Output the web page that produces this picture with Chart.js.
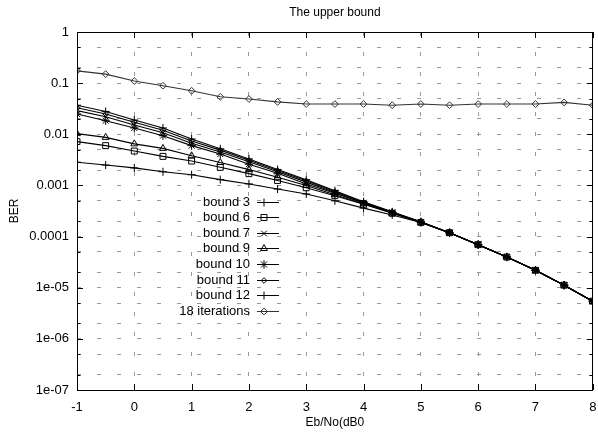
<!DOCTYPE html>
<html>
<head>
<meta charset="utf-8">
<script src="https://cdn.jsdelivr.net/npm/chart.js@4/dist/chart.umd.min.js"></script>
<style>
  html, body { margin: 0; padding: 0; background: #fff; }
  #wrap { width: 598px; height: 434px; }
</style>
</head>
<body>
<div id="wrap"><canvas id="c" width="598" height="434"></canvas></div>
<script>
// ---- data ----
const ebno = [-1, -0.5, 0, 0.5, 1, 1.5, 2, 2.5, 3, 3.5, 4, 4.5, 5, 5.5, 6, 6.5, 7, 7.5, 8];

const bound3  = [2.84e-3, 2.5e-3, 2.2e-3, 1.85e-3, 1.62e-3, 1.3e-3, 1.07e-3, 8.5e-4, 6.8e-4, 5.0e-4, 3.6e-4, 2.65e-4, 1.88e-4, 1.18e-4, 6.9e-5, 3.98e-5, 2.19e-5, 1.12e-5, 5.4e-6];
const bound6  = [7.2e-3, 6.0e-3, 4.7e-3, 3.7e-3, 3.0e-3, 2.26e-3, 1.7e-3, 1.25e-3, 9.0e-4, 6.3e-4, 4.3e-4, 2.85e-4, 1.89e-4, 1.19e-4, 6.95e-5, 3.98e-5, 2.19e-5, 1.12e-5, 5.46e-6];
const bound7  = [2.9e-2, 2.2e-2, 1.52e-2, 1.07e-2, 6.7e-3, 4.5e-3, 2.9e-3, 1.85e-3, 1.16e-3, 7.3e-4, 4.6e-4, 2.98e-4, 1.92e-4, 1.19e-4, 6.95e-5, 3.98e-5, 2.19e-5, 1.12e-5, 5.46e-6];
const bound9  = [1.03e-2, 8.7e-3, 6.5e-3, 5.3e-3, 3.8e-3, 2.8e-3, 2.04e-3, 1.44e-3, 1.0e-3, 6.6e-4, 4.4e-4, 2.9e-4, 1.9e-4, 1.19e-4, 6.95e-5, 3.98e-5, 2.19e-5, 1.12e-5, 5.46e-6];
const bound10 = [2.5e-2, 1.84e-2, 1.33e-2, 9.4e-3, 6.0e-3, 4.1e-3, 2.6e-3, 1.73e-3, 1.07e-3, 7.0e-4, 4.55e-4, 2.95e-4, 1.92e-4, 1.19e-4, 6.95e-5, 3.98e-5, 2.19e-5, 1.12e-5, 5.46e-6];
const bound11 = [3.3e-2, 2.5e-2, 1.72e-2, 1.2e-2, 7.4e-3, 4.9e-3, 3.1e-3, 1.95e-3, 1.23e-3, 7.6e-4, 4.7e-4, 3.0e-4, 1.93e-4, 1.19e-4, 6.95e-5, 3.98e-5, 2.19e-5, 1.12e-5, 5.46e-6];
const bound12 = [3.7e-2, 2.8e-2, 1.9e-2, 1.33e-2, 8.1e-3, 5.2e-3, 3.3e-3, 2.04e-3, 1.29e-3, 7.9e-4, 4.8e-4, 3.05e-4, 1.95e-4, 1.19e-4, 6.95e-5, 3.98e-5, 2.19e-5, 1.12e-5, 5.46e-6];
const iter18  = [0.174, 0.15, 0.11, 0.089, 0.071, 0.054, 0.049, 0.043, 0.039, 0.039, 0.039, 0.037, 0.039, 0.037, 0.039, 0.039, 0.039, 0.042, 0.037];

const seriesNames = ['bound 3', 'bound 6', 'bound 7', 'bound 9', 'bound 10', 'bound 11', 'bound 12', '18 iterations'];
const seriesValues = [bound3, bound6, bound7, bound9, bound10, bound11, bound12, iter18];

const xTickValues = [-1, 0, 1, 2, 3, 4, 5, 6, 7, 8];
const yDecades = [1e-7, 1e-6, 1e-5, 1e-4, 1e-3, 1e-2, 1e-1, 1];
const yTickLabels = ['1e-07', '1e-06', '1e-05', '0.0001', '0.001', '0.01', '0.1', '1'];
const yMinorFactors = [2, 5];

const titleText = 'The upper bound';
const xTitle = 'Eb/No(dB0';
const yTitle = 'BER';

// ---- styles ----
const markerStyles = [
  { style: 'cross', r: 4 },
  { style: 'rect', r: 4.2 },
  { style: 'crossRot', r: 4 },
  { style: 'triangle', r: 4 },
  { style: 'star', r: 4.2 },
  { style: 'rectRot', r: 2.8 },
  { style: 'cross', r: 4 },
  { style: 'rectRot', r: 3.4 }
];
const FONT = '"Liberation Sans", Arial, Helvetica, sans-serif';

const datasets = seriesValues.map((vals, i) => ({
  label: seriesNames[i],
  data: vals.map((v, j) => ({ x: ebno[j], y: v })),
  borderColor: i === 7 ? '#333' : '#000',
  borderWidth: 1.1,
  pointStyle: markerStyles[i].style,
  pointRadius: markerStyles[i].r,
  pointBorderColor: i === 7 ? '#333' : '#000',
  pointBackgroundColor: 'rgba(255,255,255,0)',
  pointBorderWidth: 1,
  tension: 0,
  fill: false
}));

// build y tick list (decades + minor)
const yTickList = [];
yDecades.forEach((d, i) => {
  yTickList.push({ value: d, major: true, label: yTickLabels[i] });
  if (d < 1) yMinorFactors.forEach(f => yTickList.push({ value: d * f, major: false, label: '' }));
});
yTickList.sort((a, b) => a.value - b.value);

const frame = {
  id: 'frame',
  afterDatasetsDraw(chart) {
    const { ctx, chartArea: a, scales } = chart;
    ctx.save();
    ctx.strokeStyle = '#000';
    ctx.lineWidth = 1;
    ctx.beginPath();
    // inward ticks on y
    yTickList.forEach(t => {
      const y = Math.round(scales.y.getPixelForValue(t.value)) + 0.5;
      const len = t.major ? 6 : 3.5;
      ctx.moveTo(a.left, y); ctx.lineTo(a.left + len, y);
      ctx.moveTo(a.right, y); ctx.lineTo(a.right - len, y);
    });
    xTickValues.forEach(v => {
      const x = Math.round(scales.x.getPixelForValue(v)) + 0.5;
      ctx.moveTo(x, a.bottom); ctx.lineTo(x, a.bottom - 6);
      ctx.moveTo(x, a.top); ctx.lineTo(x, a.top + 6);
    });
    ctx.stroke();
    ctx.strokeRect(Math.round(a.left) + 0.5, Math.round(a.top) + 0.5,
                   Math.round(a.right - a.left) - 1, Math.round(a.bottom - a.top));
    // legend (gnuplot-style key)
    ctx.font = '13px ' + FONT;
    ctx.textAlign = 'right';
    ctx.textBaseline = 'middle';
    const textRight = 250, lineL = 257, lineR = 279, mark = 264, y0 = 201.5, dy = 15.6;
    chart.data.datasets.forEach((ds, i) => {
      const y = y0 + i * dy;
      ctx.fillStyle = '#000';
      ctx.fillText(ds.label, textRight, y + 0.5);
      ctx.strokeStyle = ds.borderColor;
      ctx.lineWidth = 1;
      ctx.beginPath();
      ctx.moveTo(lineL, Math.round(y) + 0.5);
      ctx.lineTo(lineR, Math.round(y) + 0.5);
      ctx.stroke();
      ctx.fillStyle = 'rgba(255,255,255,0)';
      Chart.helpers.drawPoint(ctx, {
        pointStyle: ds.pointStyle, radius: ds.pointRadius, rotation: 0, borderWidth: 1
      }, mark, Math.round(y) + 0.5);
    });
    ctx.restore();
  }
};

new Chart(document.getElementById('c'), {
  type: 'line',
  data: { datasets },
  options: {
    responsive: false,
    animation: false,
    devicePixelRatio: 1,
    layout: { padding: { left: 0, right: 2, top: 0, bottom: 0 } },
    plugins: {
      legend: { display: false },
      tooltip: { enabled: false },
      title: {
        display: true,
        text: titleText,
        fullSize: false,
        color: '#000',
        font: { family: FONT, size: 12, weight: 'normal' },
        padding: { top: 5, bottom: 12.6 }
      }
    },
    scales: {
      x: {
        type: 'linear',
        min: -1, max: 8,
        afterBuildTicks(scale) { scale.ticks = xTickValues.map(v => ({ value: v })); },
        afterFit(scale) { scale.height = 44; scale.paddingRight = 0; scale.paddingLeft = 0; },
        ticks: {
          color: '#000',
          font: { family: FONT, size: 13 },
          padding: 10,
          maxRotation: 0,
          autoSkip: false,
          callback: v => String(v)
        },
        grid: { color: '#999999', lineWidth: 1, drawTicks: false },
        border: { display: false, dash: [4, 16] },
        title: {
          display: true, text: xTitle, color: '#000',
          font: { family: FONT, size: 12 }, padding: { top: 0, bottom: 4 }
        }
      },
      y: {
        type: 'logarithmic',
        min: 1e-7, max: 1,
        afterBuildTicks(scale) { scale.ticks = yTickList.map(t => ({ value: t.value, major: t.major })); },
        afterFit(scale) { scale.width = 77; },
        ticks: {
          color: '#000',
          font: { family: FONT, size: 13 },
          padding: 8,
          autoSkip: false,
          callback: (v, i) => yTickList[i] ? yTickList[i].label : ''
        },
        grid: { color: '#999999', lineWidth: 1, drawTicks: false },
        border: { display: false, dash: [4, 16] },
        title: {
          display: true, text: yTitle, color: '#000',
          font: { family: FONT, size: 12 }, padding: { top: 7, bottom: 0 }
        }
      }
    }
  },
  plugins: [frame]
});
</script>
</body>
</html>
